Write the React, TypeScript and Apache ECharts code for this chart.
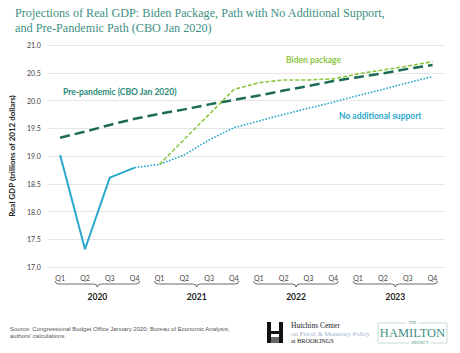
import React, { useEffect, useRef } from "react";
import * as echarts from "echarts";

const quarters = ["Q1", "Q2", "Q3", "Q4", "Q1", "Q2", "Q3", "Q4", "Q1", "Q2", "Q3", "Q4", "Q1", "Q2", "Q3", "Q4"];
const years = ["2020", "2021", "2022", "2023"];
const yearSpans = [[0, 3], [4, 7], [8, 11], [12, 15]];

const actual = [19.02, 17.32, 18.61, 18.79, null, null, null, null, null, null, null, null, null, null, null, null];
const noSupport = [null, null, null, 18.79, 18.85, 19.02, 19.29, 19.51, 19.63, 19.75, 19.86, 19.97, 20.09, 20.2, 20.32, 20.43];
const biden = [null, null, null, null, 18.85, 19.3, 19.75, 20.2, 20.32, 20.37, 20.37, 20.39, 20.48, 20.55, 20.62, 20.7];
const prePandemic = [19.33, 19.44, 19.56, 19.67, 19.76, 19.84, 19.93, 20.01, 20.09, 20.18, 20.26, 20.35, 20.42, 20.49, 20.57, 20.64];

const BLUE = "#2aa8cc";
const LGREEN = "#8dc63f";
const DGREEN = "#1d6b57";
const TEAL = "#3e8f84";
const SANS = "Lato, 'Open Sans', sans-serif";
const SERIF = "'Liberation Serif', 'DejaVu Serif', serif";

export default function App() {
  const ref = useRef<HTMLDivElement>(null);
  useEffect(() => {
    if (!ref.current) return;
    const chart = echarts.init(ref.current, null, { renderer: "svg" });
    const toData = (a: (number | null)[]) => a.map((v) => (v == null ? "-" : v));
    chart.setOption({
      animation: false,
      backgroundColor: "#fff",
      title: {
        text: "Projections of Real GDP: Biden Package, Path with No Additional Support,\nand Pre-Pandemic Path (CBO Jan 2020)",
        left: 10,
        top: 0,
        textStyle: { fontFamily: SERIF, fontSize: 12.2, fontWeight: "normal", color: TEAL, lineHeight: 15 },
      },
      grid: { left: 45, right: 15, top: 45, bottom: 86 },
      xAxis: {
        type: "category",
        data: quarters,
        boundaryGap: true,
        axisLine: { show: false },
        axisTick: { show: false },
        axisLabel: { fontFamily: SANS, fontSize: 7, color: "#444", margin: 7, interval: 0 },
      },
      yAxis: {
        type: "value",
        min: 17,
        max: 21,
        interval: 0.5,
        name: "Real GDP (trillions of 2012 dollars)",
        nameLocation: "middle",
        nameGap: 29,
        nameTextStyle: { fontFamily: SANS, fontSize: 8, fontWeight: "bold", color: "#222" },
        axisLine: { show: false },
        axisTick: { show: false },
        axisLabel: { fontFamily: SANS, fontSize: 7, color: "#444", margin: 7, formatter: (v: number) => v.toFixed(1) },
        splitLine: { lineStyle: { color: "#e6e6e6", width: 1 } },
      },
      series: [
        {
          name: "Pre-pandemic",
          type: "line",
          data: toData(prePandemic),
          showSymbol: false,
          lineStyle: { color: DGREEN, width: 2.5, type: [10, 5] },
        },
        {
          name: "Actual",
          type: "line",
          data: toData(actual),
          showSymbol: false,
          lineStyle: { color: BLUE, width: 2 },
        },
        {
          name: "No additional support",
          type: "line",
          data: toData(noSupport),
          showSymbol: false,
          lineStyle: { color: BLUE, width: 1.6, type: [1.6, 1.6] },
        },
        {
          name: "Biden package",
          type: "line",
          data: toData(biden),
          showSymbol: false,
          lineStyle: { color: LGREEN, width: 1.6, type: [4, 2] },
        },
        {
          type: "custom",
          clip: false,
          silent: true,
          encode: { x: [0, 1], y: 2 },
          data: yearSpans.map((s) => [s[0], s[1], 17]),
          renderItem: (params: any, api: any) => {
            const a = api.coord([api.value(0), 17]);
            const b = api.coord([api.value(1), 17]);
            const x0 = a[0] - 5;
            const x1 = b[0] + 5;
            const y0 = a[1] + 14;
            const mid = (x0 + x1) / 2;
            const d =
              `M${x0} ${y0} Q${x0} ${y0 + 3} ${x0 + 4} ${y0 + 3} L${mid - 4} ${y0 + 3} ` +
              `Q${mid} ${y0 + 3} ${mid} ${y0 + 6} Q${mid} ${y0 + 3} ${mid + 4} ${y0 + 3} ` +
              `L${x1 - 4} ${y0 + 3} Q${x1} ${y0 + 3} ${x1} ${y0}`;
            return {
              type: "group",
              children: [
                { type: "path", shape: { pathData: d }, style: { fill: "none", stroke: "#444", lineWidth: 0.8 } },
                {
                  type: "text",
                  x: mid,
                  y: y0 + 16,
                  style: {
                    text: years[params.dataIndex],
                    fontFamily: SANS,
                    fontSize: 8.5,
                    fontWeight: "bold",
                    fill: "#222",
                    align: "center",
                    verticalAlign: "middle",
                  },
                },
              ],
            };
          },
        },
      ],
      graphic: [
        { type: "text", left: 63, top: 87, style: { text: "Pre-pandemic (CBO Jan 2020)", fontFamily: SANS, fontSize: 8.5, fontWeight: "bold", fill: "#2a8a78" } },
        { type: "text", left: 286, top: 55, style: { text: "Biden package", fontFamily: SANS, fontSize: 8.5, fontWeight: "bold", fill: LGREEN } },
        { type: "text", left: 339, top: 111, style: { text: "No additional support", fontFamily: SANS, fontSize: 8.5, fontWeight: "bold", fill: BLUE } },
        {
          type: "text",
          left: 10,
          top: 325,
          style: {
            text: "Source: Congressional Budget Office January 2020; Bureau of Economic Analysis;\nauthors' calculations.",
            fontFamily: "'Liberation Sans', sans-serif",
            fontSize: 6,
            lineHeight: 7.5,
            fill: "#555",
          },
        },
        // Hutchins Center logo
        { type: "rect", shape: { x: 267, y: 322, width: 4, height: 21 }, style: { fill: "#111" } },
        { type: "rect", shape: { x: 279, y: 322, width: 4, height: 21 }, style: { fill: "#111" } },
        { type: "rect", shape: { x: 271, y: 331, width: 8, height: 3 }, style: { fill: "#111" } },
        { type: "rect", shape: { x: 271, y: 337, width: 8, height: 6 }, style: { fill: "#666" } },
        {
          type: "text",
          left: 291,
          top: 321,
          style: { text: "Hutchins Center", fontFamily: SERIF, fontSize: 7.5, fill: "#222" },
        },
        {
          type: "text",
          left: 291,
          top: 329.5,
          style: { text: "on Fiscal & Monetary Policy", fontFamily: SERIF, fontSize: 6.8, fill: "#9fb3c8" },
        },
        {
          type: "text",
          left: 291,
          top: 337.5,
          style: { text: "at BROOKINGS", fontFamily: SERIF, fontSize: 6.3, fill: "#222" },
        },
        // Hamilton Project logo
        { type: "rect", shape: { x: 378, y: 323, width: 69, height: 20 }, style: { fill: "none", stroke: "#b9d3cc", lineWidth: 0.8 } },
        {
          type: "text",
          x: 412.5,
          y: 322,
          style: { text: "THE", fontFamily: SERIF, fontSize: 4, fill: "#3e8f84", align: "center", verticalAlign: "middle", backgroundColor: "#fff", padding: [0, 2] },
        },
        {
          type: "text",
          x: 412.5,
          y: 333,
          style: { text: "HAMILTON", fontFamily: SERIF, fontSize: 12.5, fill: "#3e8f84", align: "center", verticalAlign: "middle" },
        },
        {
          type: "text",
          x: 420,
          y: 342.5,
          style: { text: "PROJECT", fontFamily: SERIF, fontSize: 4, fill: "#3e8f84", align: "center", verticalAlign: "middle", backgroundColor: "#fff", padding: [0, 2] },
        },
      ],
    });
    return () => chart.dispose();
  }, []);
  return <div ref={ref} style={{ width: 460, height: 353, position: "absolute", left: 0, top: 0 }} />;
}
